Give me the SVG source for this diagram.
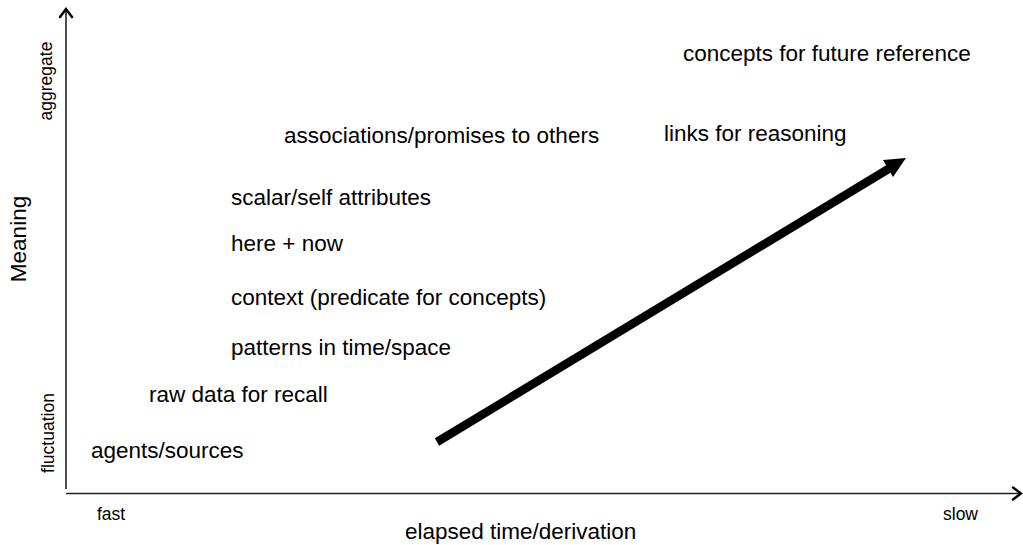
<svg xmlns="http://www.w3.org/2000/svg" width="1023" height="545" viewBox="0 0 1023 545">
<style>
.t{font-family:"Liberation Sans",Arial,sans-serif;font-size:22.5px;fill:#000}
.s{font-family:"Liberation Sans",Arial,sans-serif;font-size:17.5px;fill:#000}
.ax{stroke:#222;stroke-width:1.6;fill:none}
.hd{stroke:#000;stroke-width:2.5;fill:none;stroke-linecap:round;stroke-linejoin:miter}
</style>
<rect width="1023" height="545" fill="#fff"/>
<g id="axes">
<line class="ax" x1="66" y1="489" x2="66" y2="10"/>
<polyline class="hd" points="60,17 66,9 72,17"/>
<line class="ax" x1="66" y1="493.5" x2="1019" y2="493.5"/>
<polyline class="hd" points="1013,487.5 1021,493.5 1013,499.5"/>
</g>
<g id="axis-labels">
<text class="t" transform="translate(26,239) rotate(-90)" text-anchor="middle" font-size="20">Meaning</text>
<text class="s" transform="translate(52,81) rotate(-90)" text-anchor="middle">aggregate</text>
<text class="s" transform="translate(54,433) rotate(-90)" text-anchor="middle">fluctuation</text>
<text class="s" x="97" y="520">fast</text>
<text class="s" x="943" y="520">slow</text>
<text class="t" x="405" y="539">elapsed time/derivation</text>
</g>
<g id="connectors">
<line x1="437" y1="442" x2="890" y2="168" stroke="#000" stroke-width="8.5"/>
<polygon points="906,158 883,160 893,177" fill="#000"/>
</g>
<g id="n-agents"><text class="t" x="91" y="458">agents/sources</text></g>
<g id="n-raw"><text class="t" x="149" y="402">raw data for recall</text></g>
<g id="n-patterns"><text class="t" x="231" y="355">patterns in time/space</text></g>
<g id="n-context"><text class="t" x="231" y="305">context (predicate for concepts)</text></g>
<g id="n-here"><text class="t" x="231" y="251">here + now</text></g>
<g id="n-scalar"><text class="t" x="231" y="205">scalar/self attributes</text></g>
<g id="n-assoc"><text class="t" x="284" y="143">associations/promises to others</text></g>
<g id="n-links"><text class="t" x="664" y="141">links for reasoning</text></g>
<g id="n-concepts"><text class="t" x="683" y="61">concepts for future reference</text></g>
</svg>
